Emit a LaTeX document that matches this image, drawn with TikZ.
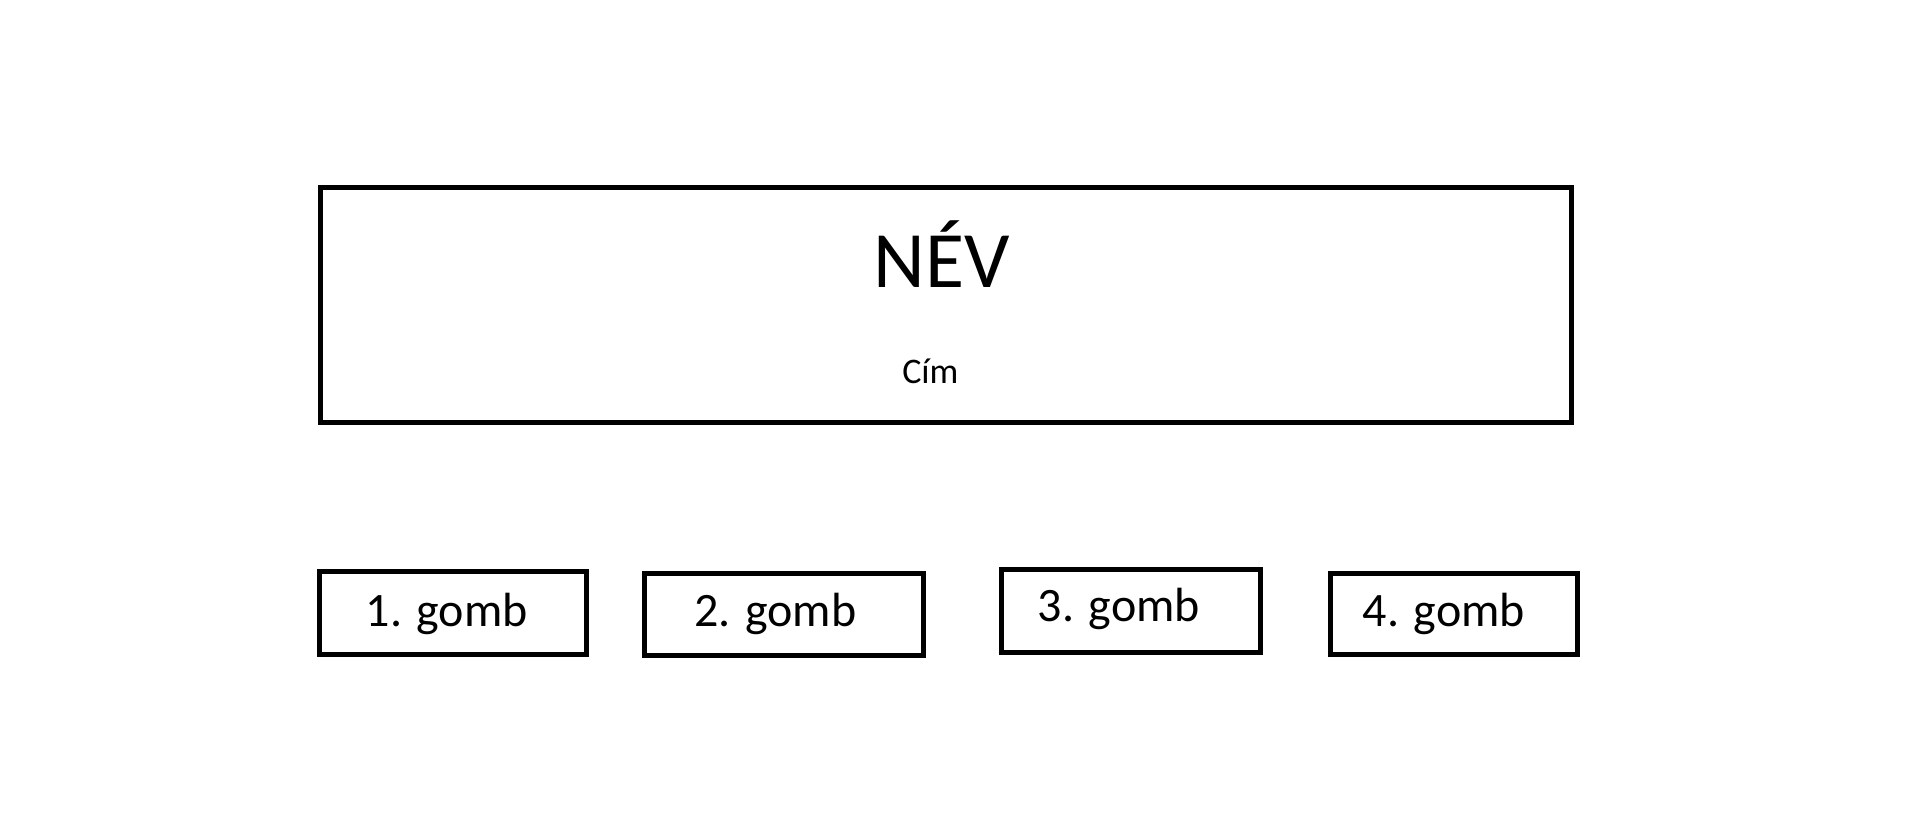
\documentclass[tikz,border=0pt]{standalone}
\usepackage{fontspec}
\setmainfont{Carlito}
\begin{document}
\begin{tikzpicture}[x=1pt,y=-1pt,
  box/.style={draw=black,line width=5pt,rectangle,inner sep=0pt,fill=white},
  btntext/.style={anchor=base,inner sep=0pt,font=\fontsize{48}{56}\selectfont},
  titletext/.style={anchor=base,inner sep=0pt,font=\fontsize{80}{90}\selectfont},
  subtext/.style={anchor=base,inner sep=0pt,font=\fontsize{36}{42}\selectfont}]
\useasboundingbox[fill=white] (0,0) rectangle (1909,825);
\node[box,minimum width=1251pt,minimum height=234.5pt] (main) at (946,304.75) {};
\node[titletext] (nev) at (941.4,287) {NÉV};
\node[subtext] (cim) at (930.4,383) {Cím};
\node[box,minimum width=267.4pt,minimum height=83.2pt] (b1) at (453,612.6) {};
\node[box,minimum width=279.1pt,minimum height=81.8pt] (b2) at (783.75,614.1) {};
\node[box,minimum width=259pt,minimum height=82.7pt] (b3) at (1130.5,611.15) {};
\node[box,minimum width=247.5pt,minimum height=80.8pt] (b4) at (1453.75,613.6) {};
\node[btntext] (t1) at (446.7,626) {1. gomb};
\node[btntext] (t2) at (775.5,626.7) {2. gomb};
\node[btntext] (t3) at (1119,621.7) {3. gomb};
\node[btntext] (t4) at (1444,626.7) {4. gomb};
\end{tikzpicture}
\end{document}
